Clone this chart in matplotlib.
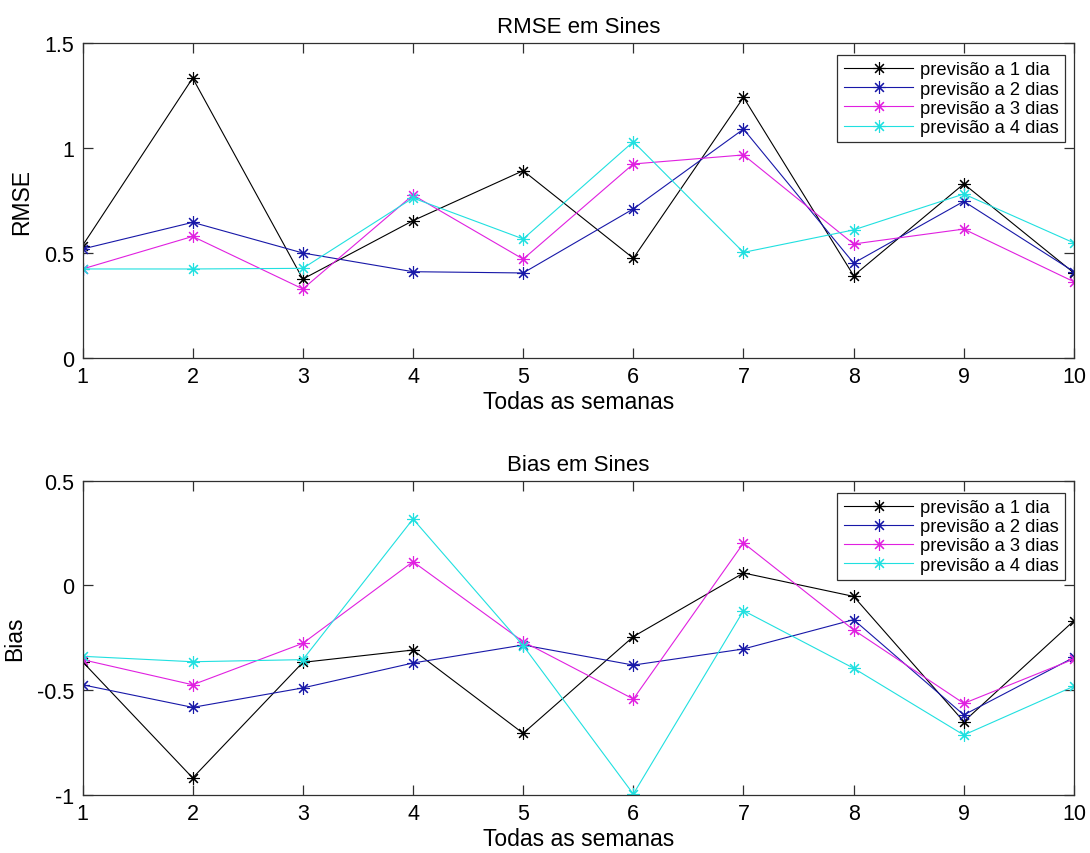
import matplotlib
matplotlib.use('Agg')
import matplotlib.pyplot as plt
from matplotlib.ticker import FuncFormatter

plt.rcParams['font.family'] = ['Liberation Sans', 'DejaVu Sans']
plt.rcParams['axes.unicode_minus'] = False

semanas = [1, 2, 3, 4, 5, 6, 7, 8, 9, 10]
labels = ['previsão a 1 dia', 'previsão a 2 dias', 'previsão a 3 dias', 'previsão a 4 dias']

# RMSE por semana
rmse_1 = [0.535, 1.333, 0.376, 0.654, 0.892, 0.475, 1.241, 0.392, 0.829, 0.405]
rmse_2 = [0.519, 0.646, 0.500, 0.411, 0.405, 0.710, 1.090, 0.452, 0.746, 0.411]
rmse_3 = [0.424, 0.579, 0.329, 0.776, 0.471, 0.924, 0.967, 0.543, 0.614, 0.363]
rmse_4 = [0.424, 0.424, 0.427, 0.762, 0.567, 1.030, 0.503, 0.610, 0.781, 0.548]

# Bias por semana
bias_1 = [-0.365, -0.920, -0.368, -0.309, -0.707, -0.245, 0.059, -0.053, -0.651, -0.169]
bias_2 = [-0.475, -0.583, -0.490, -0.371, -0.285, -0.381, -0.304, -0.164, -0.619, -0.344]
bias_3 = [-0.355, -0.475, -0.277, 0.113, -0.269, -0.543, 0.202, -0.213, -0.564, -0.352]
bias_4 = [-0.339, -0.365, -0.355, 0.317, -0.288, -0.997, -0.121, -0.396, -0.715, -0.482]

cores = ['#000000', '#1818a8', '#e020e0', '#20e0e0']

fig = plt.figure(figsize=(10.9, 8.54), dpi=100)
ax1 = fig.add_axes([0.0757, 0.5796, 0.9096, 0.3689])
ax2 = fig.add_axes([0.0757, 0.0683, 0.9096, 0.3677])

fmt = FuncFormatter(lambda v, p: ('%g' % v))

paineis = [
    (ax1, [rmse_1, rmse_2, rmse_3, rmse_4], 'RMSE em Sines', 'RMSE', (0, 1.5), [0, 0.5, 1, 1.5]),
    (ax2, [bias_1, bias_2, bias_3, bias_4], 'Bias em Sines', 'Bias', (-1, 0.5), [-1, -0.5, 0, 0.5]),
]

for ax, series, titulo, ylab, ylim, yticks in paineis:
    for s, c, lab in zip(series, cores, labels):
        # asterisco estilo MATLAB (+ e x sobrepostos)
        ax.plot(semanas, s, color=c, lw=0.8, marker=(8, 2, 0), ms=9, mew=0.8, label=lab)
    ax.set_xlim(1, 10)
    ax.set_ylim(*ylim)
    ax.set_xticks(semanas)
    ax.set_yticks(yticks)
    ax.yaxis.set_major_formatter(fmt)
    ax.tick_params(direction='in', length=7, width=0.9, top=True, right=True,
                   labelsize=15.5, pad=6, color='#303030')
    for sp in ax.spines.values():
        sp.set_color('#303030')
        sp.set_linewidth(0.9)
    ax.set_title(titulo, fontsize=16, pad=8)
    ax.set_xlabel('Todas as semanas', fontsize=16.5, labelpad=2)
    ax.set_ylabel(ylab, fontsize=16.5, labelpad=8)
    leg = ax.legend(loc='upper right', bbox_to_anchor=(0.991, 0.962), borderaxespad=0,
                    fontsize=13.2, handlelength=3.8, handletextpad=0.35, labelspacing=0.12,
                    borderpad=0.35, numpoints=1, fancybox=False, framealpha=1)
    leg.get_frame().set_edgecolor('#303030')
    leg.get_frame().set_linewidth(0.9)

plt.savefig('out.png', dpi=100)
